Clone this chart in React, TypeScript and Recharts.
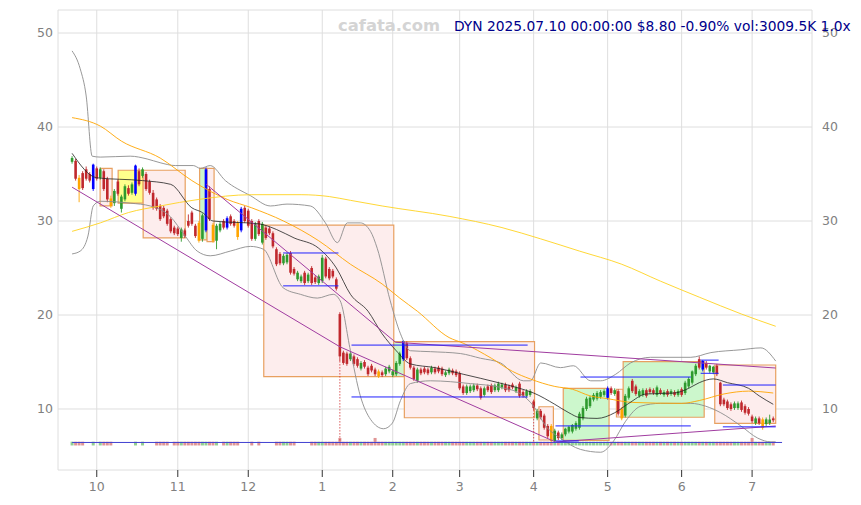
import React from 'react';
import { ComposedChart, Bar, Line, XAxis, YAxis, CartesianGrid, ReferenceArea, ReferenceLine } from 'recharts';

const monthLabels = ['10', '11', '12', '1', '2', '3', '4', '5', '6', '7'];
const monthStartIndex = [7, 30, 50, 71, 91, 110, 131, 152, 173, 193];
const priceTicks = [10, 20, 30, 40, 50];

// daily candles: [open, high, low, close]
const candles: number[][] = [
  [36.3, 36.9, 36.1, 36.7], [36.4, 36.6, 34.3, 34.5], [34.6, 34.9, 32.0, 33.4], [35.1, 35.3, 33.3, 33.5], [35.5, 35.8, 34.3, 34.5],
  [35.0, 35.2, 34.1, 34.3], [33.4, 36.1, 33.2, 36.0], [35.6, 35.8, 34.3, 34.5], [34.6, 35.7, 34.4, 35.5], [35.3, 35.5, 33.2, 33.4],
  [34.5, 34.7, 32.0, 32.3], [32.4, 32.7, 31.4, 31.6], [31.9, 33.4, 31.6, 33.2], [34.2, 34.4, 32.7, 32.9], [31.3, 32.8, 30.9, 32.6],
  [32.3, 33.9, 32.1, 33.7], [33.5, 33.8, 32.7, 32.9], [33.0, 34.1, 32.8, 33.9], [32.9, 36.0, 32.7, 35.9], [35.3, 35.6, 33.7, 33.9],
  [34.8, 35.7, 34.6, 35.5], [35.0, 35.2, 33.2, 33.4], [34.2, 34.4, 32.8, 33.0], [33.0, 33.3, 31.2, 31.4], [32.3, 32.5, 31.1, 31.3],
  [31.6, 31.8, 30.0, 30.2], [31.4, 31.6, 30.3, 30.5], [31.1, 31.3, 29.5, 29.7], [30.2, 30.4, 28.7, 28.9], [29.3, 29.5, 28.5, 28.7],
  [29.2, 29.4, 28.4, 28.6], [28.2, 29.3, 27.8, 29.1], [29.0, 29.2, 28.2, 28.4], [30.0, 30.7, 29.3, 29.5], [30.9, 31.1, 29.5, 29.7],
  [29.5, 29.7, 28.2, 28.4], [29.8, 30.0, 27.7, 27.9], [28.1, 30.8, 27.8, 30.6], [29.0, 35.7, 28.8, 35.5], [33.4, 33.7, 30.0, 30.2],
  [29.6, 29.8, 27.7, 27.9], [27.9, 29.7, 27.0, 29.5], [29.0, 29.9, 28.8, 29.7], [30.0, 30.2, 29.1, 29.3], [29.3, 30.5, 29.1, 30.3],
  [30.5, 30.7, 29.5, 29.7], [30.0, 30.2, 29.3, 29.5], [29.8, 30.0, 28.0, 28.3], [29.0, 31.5, 28.8, 31.3], [31.4, 31.6, 29.8, 30.0],
  [31.1, 31.3, 29.3, 29.5], [30.0, 30.2, 27.9, 28.1], [28.1, 29.9, 27.9, 29.7], [30.0, 30.2, 28.4, 28.6], [27.7, 29.9, 27.5, 29.7],
  [29.3, 29.5, 28.0, 28.2], [29.2, 29.4, 28.5, 28.7], [28.7, 28.9, 27.1, 27.3], [27.0, 27.2, 25.2, 25.4], [26.5, 26.7, 25.3, 25.5],
  [25.5, 26.5, 25.3, 26.3], [25.6, 26.6, 25.4, 26.4], [26.6, 26.8, 24.3, 24.5], [24.9, 25.1, 24.2, 24.4], [23.8, 24.7, 23.6, 24.5],
  [23.6, 24.3, 23.4, 24.1], [24.5, 24.7, 23.2, 23.4], [23.6, 24.5, 23.4, 24.3], [25.0, 25.2, 23.2, 23.4], [24.0, 24.2, 23.3, 23.5],
  [23.4, 24.3, 23.2, 24.1], [23.6, 26.4, 23.4, 26.1], [26.0, 26.2, 23.9, 24.1], [24.9, 25.1, 23.7, 23.9], [24.7, 24.9, 23.9, 24.1],
  [23.8, 24.0, 22.6, 22.8], [20.1, 20.3, 15.1, 15.6], [16.0, 16.2, 14.7, 14.9], [15.9, 16.1, 14.6, 14.8], [15.3, 16.1, 15.1, 15.9],
  [15.6, 15.8, 14.6, 14.8], [15.3, 15.5, 14.4, 14.6], [14.3, 15.1, 14.1, 14.9], [15.0, 15.2, 14.3, 14.5], [14.4, 14.6, 13.5, 13.7],
  [14.6, 14.8, 13.9, 14.1], [14.2, 14.4, 13.5, 13.7], [14.0, 14.2, 13.3, 13.5], [13.9, 14.1, 13.4, 13.6], [13.7, 14.5, 13.5, 14.3],
  [14.0, 14.7, 13.8, 14.5], [13.6, 14.2, 13.4, 14.0], [13.7, 15.1, 13.5, 14.9], [14.8, 16.1, 14.6, 15.9], [15.3, 17.3, 15.1, 17.2],
  [17.0, 17.2, 15.2, 15.4], [15.4, 15.6, 14.2, 14.4], [14.4, 14.6, 13.0, 13.2], [13.0, 14.4, 12.8, 14.2], [14.2, 14.4, 13.6, 13.8],
  [14.3, 14.5, 13.7, 13.9], [14.2, 14.4, 13.6, 13.8], [13.9, 14.6, 13.7, 14.4], [14.3, 14.5, 13.7, 13.9], [14.4, 14.6, 13.8, 14.0],
  [14.3, 14.5, 13.5, 13.7], [13.6, 14.1, 13.4, 13.9], [13.8, 14.4, 13.6, 14.2], [14.1, 14.3, 13.6, 13.8], [14.0, 14.2, 13.4, 13.6],
  [13.8, 14.0, 12.0, 12.2], [12.4, 12.6, 11.5, 11.7], [11.7, 12.6, 11.5, 12.4], [11.9, 12.6, 11.7, 12.4], [12.0, 12.7, 11.8, 12.5],
  [12.5, 12.7, 11.9, 12.1], [12.2, 12.4, 11.0, 11.2], [11.5, 12.4, 11.3, 12.2], [12.4, 12.6, 11.8, 12.0], [12.5, 12.7, 11.6, 11.8],
  [12.0, 12.7, 11.8, 12.5], [12.0, 12.9, 11.8, 12.7], [12.3, 12.8, 12.1, 12.6], [12.6, 12.8, 11.8, 12.0], [12.4, 12.6, 11.8, 12.0],
  [12.6, 12.8, 12.1, 12.3], [11.9, 12.5, 11.7, 12.3], [12.7, 12.9, 11.2, 11.4], [11.8, 12.0, 11.2, 11.4], [11.4, 12.1, 11.2, 11.9],
  [11.5, 12.1, 11.3, 11.9], [10.8, 11.0, 9.9, 10.1], [9.0, 10.0, 8.8, 9.8], [9.8, 10.0, 8.9, 9.1], [9.3, 9.5, 7.8, 8.0],
  [8.2, 8.4, 6.9, 7.1], [8.2, 8.4, 6.4, 6.6], [6.6, 7.9, 6.4, 7.7], [7.5, 7.7, 6.7, 6.9], [6.9, 7.5, 6.7, 7.3],
  [7.3, 8.0, 7.1, 7.9], [7.6, 8.2, 7.4, 8.1], [7.6, 8.4, 7.4, 8.3], [7.9, 8.7, 7.7, 8.5], [8.0, 9.7, 7.8, 9.5],
  [9.0, 10.3, 8.8, 10.1], [10.0, 11.3, 9.8, 11.1], [10.3, 11.4, 10.1, 11.2], [11.0, 11.7, 10.8, 11.5], [11.1, 11.9, 10.9, 11.7],
  [11.3, 12.0, 11.1, 11.8], [11.5, 12.1, 11.3, 11.9], [11.2, 12.4, 11.0, 12.2], [12.2, 12.4, 11.5, 11.7], [11.6, 12.2, 11.4, 12.0],
  [11.9, 12.1, 9.3, 9.5], [10.0, 10.2, 8.8, 9.0], [9.3, 11.6, 9.1, 11.4], [11.2, 12.4, 11.0, 12.2], [13.0, 13.2, 11.7, 11.9],
  [12.4, 12.6, 11.4, 11.6], [11.4, 12.1, 11.2, 11.9], [11.5, 12.2, 11.3, 12.0], [12.0, 12.2, 11.2, 11.4], [12.1, 12.3, 11.6, 11.8],
  [12.0, 12.2, 11.5, 11.7], [11.5, 12.5, 11.3, 12.3], [12.0, 12.2, 11.5, 11.7], [11.5, 12.0, 11.3, 11.8], [11.9, 12.1, 11.3, 11.5],
  [11.6, 12.1, 11.4, 11.9], [11.8, 12.0, 11.3, 11.5], [11.5, 12.1, 11.3, 11.9], [12.1, 12.3, 11.3, 11.5], [11.7, 13.0, 11.5, 12.8],
  [12.4, 13.4, 12.2, 13.2], [12.8, 14.1, 12.6, 14.0], [13.7, 14.8, 13.5, 14.6], [15.3, 15.6, 14.2, 14.4], [14.2, 15.2, 14.0, 15.1],
  [14.9, 15.1, 14.2, 14.4], [14.0, 14.7, 13.8, 14.6], [13.9, 14.6, 13.7, 14.5], [14.6, 14.8, 13.5, 13.7], [12.8, 12.9, 10.3, 10.5],
  [11.0, 11.2, 10.3, 10.5], [10.8, 11.0, 9.9, 10.1], [10.5, 10.7, 9.8, 10.0], [10.1, 10.8, 9.9, 10.6], [10.1, 10.8, 9.9, 10.6],
  [10.7, 10.9, 9.7, 9.9], [10.3, 10.5, 9.4, 9.6], [10.0, 10.2, 9.3, 9.5], [9.2, 9.4, 8.5, 8.7], [8.5, 9.2, 8.3, 9.0],
  [9.0, 9.2, 8.3, 8.5], [8.9, 9.1, 7.8, 8.0], [8.4, 9.1, 8.2, 8.9], [8.5, 9.4, 8.3, 8.88], [9.0, 9.2, 8.6, 8.8],
];

const blueCandles = [6, 18, 38, 44, 48, 94, 152, 179];
const orangeCandles = [2, 11, 36, 40, 47, 87, 136, 156, 196];

// relative volume level per day (0 = too small to show)
const volumeLevel = [
  1, 1, 1, 1, 0, 0, 1, 0, 1, 1, 1, 1, 0, 0, 0, 0, 0, 0, 1, 0,
  1, 0, 0, 0, 1, 1, 1, 1, 0, 1, 1, 1, 1, 1, 1, 1, 1, 1, 1, 1,
  1, 1, 0, 1, 1, 1, 1, 1, 0, 0, 0, 1, 0, 1, 0, 0, 0, 0, 1, 1,
  1, 1, 1, 1, 0, 0, 0, 0, 1, 1, 1, 1, 1, 1, 1, 1, 2, 1, 1, 1,
  1, 1, 1, 1, 1, 1, 2, 1, 1, 1, 1, 1, 1, 1, 1, 1, 1, 1, 1, 1,
  1, 1, 1, 1, 1, 1, 1, 1, 1, 1, 1, 1, 1, 1, 1, 1, 1, 1, 1, 1,
  1, 1, 1, 1, 1, 1, 1, 1, 1, 1, 1, 1, 1, 1, 1, 1, 1, 1, 1, 1,
  1, 1, 1, 1, 1, 1, 1, 1, 1, 1, 1, 1, 1, 1, 1, 1, 1, 1, 1, 1,
  1, 1, 1, 1, 1, 1, 1, 1, 1, 1, 1, 1, 1, 1, 1, 1, 1, 1, 1, 1,
  1, 1, 1, 1, 1, 1, 1, 1, 1, 1, 1, 1, 1, 2, 1, 1, 1, 1, 1, 1,
];

// indicator lines: [dayIndex, price]
const ma20Pts = [
  [0, 37.2], [7, 34.6], [20, 34.3], [28, 33.9], [34, 31.4], [37, 30.9], [40, 30.0], [53, 29.7], [58, 29.1], [63, 28.2],
  [70, 27.1], [75, 25.0], [79, 22.2], [84, 20.4], [88, 18.0], [92, 16.2], [96, 14.8], [103, 14.4], [111, 13.7], [121, 12.8],
  [127, 12.2], [131, 11.7], [137, 10.5], [141, 9.6], [144, 9.1], [149, 9.0], [154, 9.6], [158, 10.6], [163, 11.6], [171, 11.7],
  [175, 12.2], [178, 12.8], [182, 13.2], [186, 12.8], [192, 12.2], [195, 11.4], [199, 10.5],
];
const ma50Pts = [
  [0, 41.0], [8, 40.1], [14, 38.5], [25, 36.7], [34, 34.3], [39, 33.2], [44, 32.3], [51, 31.4], [60, 30.0], [70, 27.9],
  [79, 25.4], [88, 23.3], [93, 21.8], [98, 20.4], [107, 17.6], [111, 17.0], [119, 15.4], [125, 14.0], [130, 13.2], [137, 12.4],
  [142, 12.1], [147, 11.4], [152, 11.1], [159, 10.7], [173, 10.6], [178, 10.9], [185, 11.6], [192, 11.9], [199, 11.7],
];
const ma200Pts = [
  [0, 28.9], [8, 29.8], [16, 30.9], [25, 31.6], [36, 32.3], [51, 32.8], [65, 32.8], [73, 32.6], [79, 32.2], [88, 31.6],
  [107, 30.5], [122, 29.3], [133, 28.1], [144, 26.8], [156, 25.4], [167, 23.6], [178, 21.9], [190, 20.1], [199.7, 18.8],
];
const bbUpperPts = [
  [0, 48.1], [2.3, 46.2], [4, 43.3], [5.7, 36.9], [8, 36.8], [16.5, 36.9], [21.3, 36.6], [25, 36.2], [29.3, 35.9], [34.4, 35.9],
  [36.4, 35.6], [39.2, 35.9], [43.5, 34.3], [50.6, 32.7], [56.3, 31.6], [61, 31.8], [67.6, 31.6], [71.9, 29.8], [75.3, 27.7],
  [78.1, 29.8], [81.8, 29.8], [84.7, 28.9], [86.6, 27.1], [90.3, 21.5], [93.2, 18.0], [96, 16.2], [101.7, 16.1], [110.2, 15.9],
  [115.9, 15.4], [121.6, 14.9], [128.1, 13.0], [130.1, 13.0], [133, 14.9], [138.6, 14.4], [142.3, 14.6], [147.2, 13.0],
  [150, 13.0], [154.3, 13.7], [158.5, 14.9], [164.2, 15.5], [175.6, 15.5], [181.3, 16.0], [189.8, 16.3], [195.5, 16.5], [199.7, 15.1],
];
const bbLowerPts = [
  [0, 26.5], [2.3, 26.8], [4.5, 28.4], [6, 31.6], [8, 32.1], [16.5, 31.9], [22.2, 31.6], [27.8, 30.5], [32.1, 28.4], [35.5, 26.8],
  [39.2, 26.3], [44.9, 26.8], [50.6, 27.3], [54.3, 27.0], [59.9, 22.9], [64.8, 22.2], [69.6, 21.8], [74.1, 22.2], [76.1, 21.5],
  [79, 16.2], [81.8, 11.4], [84.7, 8.9], [88.4, 7.9], [90.9, 8.5], [93.2, 10.9], [96, 12.7], [101.7, 13.0], [113.1, 12.7],
  [121.6, 12.3], [127.3, 11.6], [131, 10.3], [134.4, 8.2], [138.6, 6.9], [144.3, 5.7], [150, 5.4], [153.7, 6.6], [157.1, 8.7],
  [161.4, 10.3], [167, 10.6], [175.6, 10.6], [179.8, 10.3], [184.1, 9.6], [189.8, 8.2], [194.6, 6.9], [198.3, 6.5], [199.7, 6.5],
];

// consolidation boxes: [startIndex, endIndex, top, bottom, kind]
const boxes: [number, number, number, number, string][] = [
  [7.95, 11.36, 35.6, 31.6, 'down'],
  [13.07, 20.17, 35.4, 31.9, 'flat'],
  [20.17, 32.1, 35.4, 28.2, 'down'],
  [36.2, 38.3, 35.6, 28.0, 'up'],
  [38.3, 40.3, 35.6, 27.8, 'down'],
  [54.4, 91.3, 29.57, 13.44, 'down'],
  [91.3, 94.3, 17.16, 13.44, 'up'],
  [94.3, 131.25, 17.16, 9.07, 'down'],
  [132.5, 136.6, 10.24, 6.7, 'down'],
  [139.4, 152.4, 12.2, 6.67, 'up'],
  [154.5, 156.4, 12.1, 9.15, 'down'],
  [156.4, 179.4, 15.03, 9.12, 'up'],
  [182.4, 199.7, 14.68, 8.48, 'down'],
];

// support / resistance segments: [startIndex, endIndex, price]
const levels: [number, number, number][] = [
  [59.9, 75.6, 26.6], [59.9, 75.6, 23.1],
  [79.3, 129.3, 16.8], [79.3, 129.3, 11.28],
  [137.2, 143.8, 6.6], [137.2, 175.6, 8.2], [144.3, 175.6, 13.4],
  [178.4, 183.5, 15.2], [178.4, 183.5, 13.8],
  [184.7, 199.7, 12.55], [184.7, 199.7, 8.1],
];

// trend lines: [i1, p1, i2, p2]
const trendLines: [number, number, number, number][] = [
  [38.1, 33.9, 91.8, 17.1],
  [91.8, 17.1, 199.7, 14.36],
  [0, 33.6, 76.1, 16.6],
  [76.1, 16.6, 137.2, 6.49],
  [137.2, 6.49, 199.7, 8.19],
];

// event markers: [index, fromPrice]
const eventMarkers: [number, number][] = [[76, 15.1], [131, 9.9]];
const volumeAverage = 6.44;

const RED = '#c0282d';
const GREEN = '#2e9a2e';
const BLUE = '#0000ff';
const ORANGE = '#ffa500';
const VOL_BASE = 6.12;
const VOL_UNIT = 0.4;

const rows = candles.map((c, i) => ({
  i,
  range: [c[2], c[1]],
  o: c[0],
  h: c[1],
  l: c[2],
  c: c[3],
  vol: volumeLevel[i],
  kind: blueCandles.includes(i) ? 'b' : orangeCandles.includes(i) ? 'o' : '',
}));

const toPts = (arr: number[][]) => arr.map(([i, v]) => ({ i, v }));

const Candle = (props: any) => {
  const { x, y, width, height, payload } = props;
  if (!payload || x == null) return null;
  const { o, h, l, c, vol, kind } = payload;
  const top = Math.min(y, y + height);
  const hgt = Math.abs(height);
  const ppu = hgt / (h - l);
  const py = (p: number) => top + (h - p) * ppu;
  const cx = x + width / 2;
  const up = c >= o;
  const color = kind === 'b' ? BLUE : kind === 'o' ? ORANGE : up ? GREEN : RED;
  const yO = py(o);
  const yC = py(c);
  const bt = Math.min(yO, yC);
  const bh = Math.max(Math.abs(yO - yC), 0.9);
  const vb = py(VOL_BASE);
  const vt = py(VOL_BASE + vol * VOL_UNIT);
  return (
    <g>
      {vol > 0 && (
        <rect x={cx - 1.5} y={vt} width={3} height={vb - vt} fill={up ? '#92cf92' : '#e09595'} />
      )}
      <line x1={cx} x2={cx} y1={top} y2={top + hgt} stroke={color} strokeWidth={0.9} />
      <rect x={cx - 1.3} y={bt} width={2.6} height={bh} fill={color} />
    </g>
  );
};

const boxFill: Record<string, string> = { down: '#fdeded', up: '#ccf7cc', flat: '#ffff8c' };

export default function App() {
  return (
    <div style={{ position: 'absolute', left: 0, top: 0, width: 861, height: 505, background: '#fff' }}>
      <ComposedChart width={861} height={505} data={rows} margin={{ top: 10, right: 0, bottom: 0, left: 0 }}>
        <CartesianGrid stroke="#dedede" strokeWidth={1} />
        <XAxis
          dataKey="i"
          type="number"
          domain={[-4, 210]}
          allowDataOverflow
          ticks={monthStartIndex}
          interval={0}
          tickFormatter={(v: number) => monthLabels[monthStartIndex.indexOf(v)] ?? ''}
          height={35}
          axisLine={false}
          tickLine={{ stroke: '#333', strokeWidth: 1 }}
          tickSize={7}
          tickMargin={5}
          tick={{ fill: '#808080', fontSize: 12.5, fontFamily: 'DejaVu Sans' }}
        />
        <YAxis
          yAxisId={0}
          orientation="left"
          type="number"
          domain={[3.51, 52.45]}
          allowDataOverflow
          ticks={priceTicks}
          width={58}
          axisLine={false}
          tickLine={false}
          tickSize={3}
          tickMargin={2}
          tick={{ fill: '#808080', fontSize: 12.5, fontFamily: 'DejaVu Sans' }}
        />
        <YAxis
          yAxisId="r"
          orientation="right"
          type="number"
          domain={[3.51, 52.45]}
          allowDataOverflow
          ticks={priceTicks}
          width={49}
          axisLine={false}
          tickLine={false}
          tickSize={4}
          tickMargin={6}
          tick={{ fill: '#808080', fontSize: 12.5, fontFamily: 'DejaVu Sans' }}
        />
        {boxes.map(([a, b, t, btm, k], n) => (
          <ReferenceArea key={'box' + n} x1={a} x2={b} y1={btm} y2={t} fill={boxFill[k]} fillOpacity={1} stroke="#e8a060" strokeWidth={1.2} ifOverflow="visible" />
        ))}
        <Line data={toPts(bbUpperPts)} dataKey="v" type="monotone" stroke="#8c8c8c" strokeWidth={0.9} dot={false} isAnimationActive={false} />
        <Line data={toPts(bbLowerPts)} dataKey="v" type="monotone" stroke="#8c8c8c" strokeWidth={0.9} dot={false} isAnimationActive={false} />
        <Line data={toPts(ma200Pts)} dataKey="v" type="monotone" stroke="#ffd21f" strokeWidth={0.9} dot={false} isAnimationActive={false} />
        <Line data={toPts(ma50Pts)} dataKey="v" type="monotone" stroke="#ffa500" strokeWidth={0.9} dot={false} isAnimationActive={false} />
        <Line data={toPts(ma20Pts)} dataKey="v" type="monotone" stroke="#222" strokeWidth={0.8} dot={false} isAnimationActive={false} />
        {trendLines.map(([i1, p1, i2, p2], n) => (
          <ReferenceLine key={'tl' + n} segment={[{ x: i1, y: p1 }, { x: i2, y: p2 }]} stroke="#a03ca0" strokeWidth={1} ifOverflow="visible" />
        ))}
        {levels.map(([a, b, p], n) => (
          <ReferenceLine key={'lv' + n} segment={[{ x: a, y: p }, { x: b, y: p }]} stroke="#2020ff" strokeWidth={1} ifOverflow="visible" />
        ))}
        {eventMarkers.map(([i, p], n) => (
          <ReferenceLine key={'ev' + n} segment={[{ x: i, y: p }, { x: i, y: volumeAverage }]} stroke="#d03030" strokeWidth={0.8} strokeDasharray="1.5 1.5" ifOverflow="visible" />
        ))}
        <Bar dataKey="range" barSize={3} shape={Candle} isAnimationActive={false} />
        <ReferenceLine segment={[{ x: 0, y: volumeAverage }, { x: 201.5, y: volumeAverage }]} stroke="#4040d0" strokeWidth={1} ifOverflow="visible" />
      </ComposedChart>
      <svg width={861} height={505} style={{ position: 'absolute', left: 0, top: 0, pointerEvents: 'none' }}>
        <text x={338} y={31} fontFamily="DejaVu Sans" fontWeight="bold" fontSize={16.4} fill="#d4d4d4">cafata.com</text>
        <text x={454} y={31} fontFamily="DejaVu Sans" fontSize={13.8} fill="#00008b">DYN 2025.07.10 00:00:00 $8.80 -0.90% vol:3009.5K 1.0x</text>
      </svg>
    </div>
  );
}
